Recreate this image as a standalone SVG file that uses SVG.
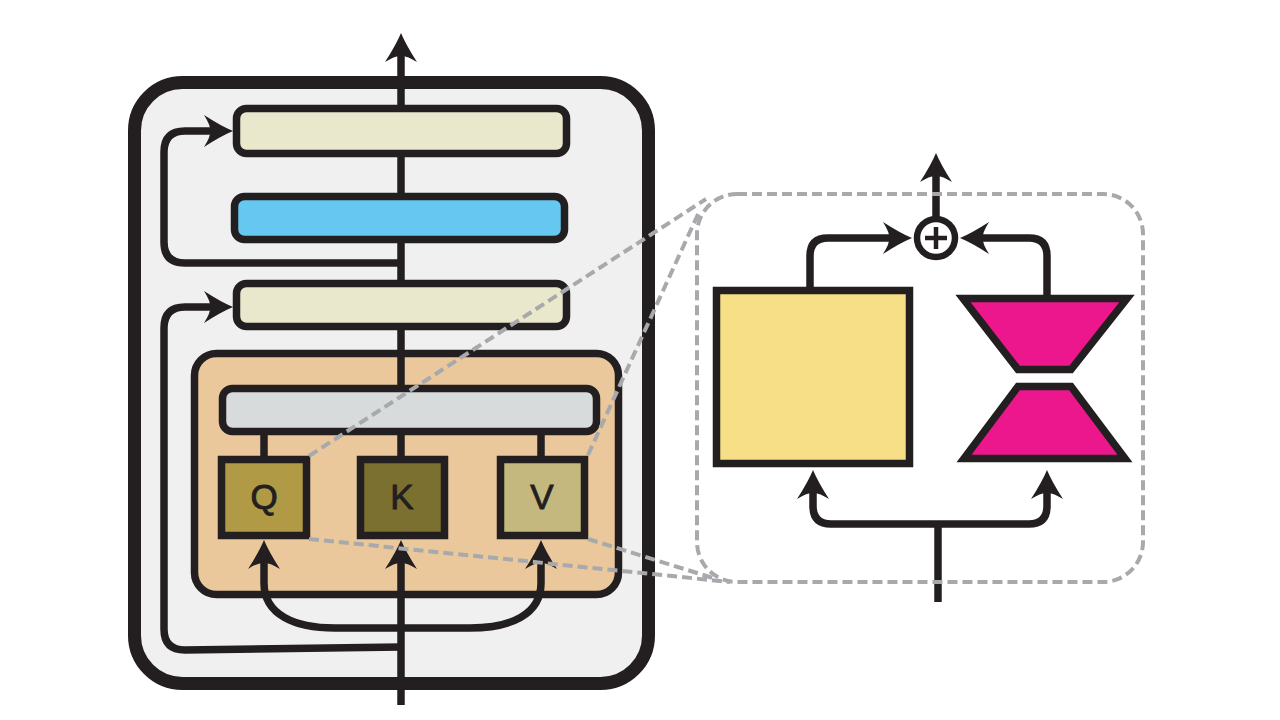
<svg xmlns="http://www.w3.org/2000/svg" width="1280" height="720" viewBox="0 0 1280 720">
<style>
.blk{stroke:#231F20;stroke-width:7.5;}
.ln{fill:none;stroke:#231F20;stroke-width:7.5;}
.dash{fill:none;stroke:#A7A9AC;stroke-width:4;stroke-dasharray:10 5;}
.lbl{font-family:"Liberation Sans",Arial,sans-serif;font-size:35px;fill:#231F20;stroke:#231F20;stroke-width:0.9;text-anchor:middle;}
</style>
<defs>
<marker id="ah" markerUnits="userSpaceOnUse" orient="auto-start-reverse" viewBox="0 -17 31 34" markerWidth="31" markerHeight="34" refX="14" refY="0">
<path d="M30,0 Q18,-5 1,-16 Q8,-5 7,0 Q8,5 1,16 Q18,5 30,0 Z" fill="#231F20"/>
</marker>
</defs>
<rect width="1280" height="720" fill="#FFFFFF"/>
<g id="block">
<rect x="134.5" y="82.5" width="514" height="601" rx="48" fill="#F0F0F0" stroke="#231F20" stroke-width="13"/>
</g>
<g id="attention">
<rect x="194.5" y="353.5" width="424" height="241" rx="22" fill="#EAC89B" class="blk"/>
</g>
<g id="connectors">
<path class="ln" d="M401,705 V556" marker-end="url(#ah)"/>
<path class="ln" d="M401,460 V49" marker-end="url(#ah)"/>
<path class="ln" d="M264,460 V430 M541,460 V430"/>
<path class="ln" d="M264,556 V583 C264,615 295,628 335,628 H470 C510,628 541,615 541,583 V556" marker-start="url(#ah)" marker-end="url(#ah)"/>
<path class="ln" d="M401,263 H185 Q164,263 164,242 V152 Q164,131 185,131 H217" marker-end="url(#ah)"/>
<path class="ln" d="M401,647 L185,650 Q164,650 164,629 V328 Q164,307 185,307 H217" marker-end="url(#ah)"/>
<path class="ln" d="M936,219 V169" marker-end="url(#ah)"/>
<path class="ln" d="M810,290 V256 Q810,238 828,238 H896" marker-end="url(#ah)"/>
<path class="ln" d="M1047,298 V256 Q1047,238 1029,238 H976" marker-end="url(#ah)"/>
<path class="ln" d="M938,602 V524"/>
<path class="ln" d="M813,486 V506 Q813,524 831,524 H1029 Q1047,524 1047,506 V486" marker-start="url(#ah)" marker-end="url(#ah)"/>
</g>
<g id="norm2"><rect x="236.5" y="108.5" width="330" height="45" rx="10" fill="#EAE8CC" class="blk"/></g>
<g id="mlp"><rect x="234.5" y="196.5" width="330" height="43" rx="10" fill="#66C7F0" class="blk"/></g>
<g id="norm1"><rect x="236.5" y="283.5" width="330" height="43" rx="10" fill="#EAE8CC" class="blk"/></g>
<g id="attn-out"><rect x="222.5" y="388.5" width="374" height="43" rx="10" fill="#D7DBDB" class="blk"/></g>
<g id="q"><rect x="221.5" y="459.5" width="85" height="76" fill="#B09A45" class="blk"/><text class="lbl" x="264" y="509">Q</text></g>
<g id="k"><rect x="360.5" y="459.5" width="84" height="76" fill="#7B702F" class="blk"/><text class="lbl" x="402" y="509">K</text></g>
<g id="v"><rect x="500.5" y="459.5" width="84" height="76" fill="#C5B87F" class="blk"/><text class="lbl" x="542" y="509">V</text></g>
<g id="zoom-frame">
<rect x="697" y="194" width="446" height="388" rx="40" class="dash"/>
<path class="dash" d="M309,456 L706,199 M588,455 L699,212 M309,539 L730,582 M588,539 L713,578"/>
</g>
<g id="frozen"><rect x="716.5" y="290.5" width="193" height="173" fill="#F6DF86" class="blk"/></g>
<g id="adapter">
<polygon points="963,298.5 1127,298.5 1071,369.5 1018,369.5" fill="#EC178C" class="blk" stroke-linejoin="miter"/>
<polygon points="1018,386.5 1071,386.5 1125,458.5 964,458.5" fill="#EC178C" class="blk" stroke-linejoin="miter"/>
</g>
<g id="sum">
<circle cx="936" cy="238" r="19" fill="#FFFFFF" stroke="#231F20" stroke-width="6.5"/>
<path d="M925,238 H947 M936,227 V249" stroke="#231F20" stroke-width="4.5" fill="none"/>
</g>
</svg>
